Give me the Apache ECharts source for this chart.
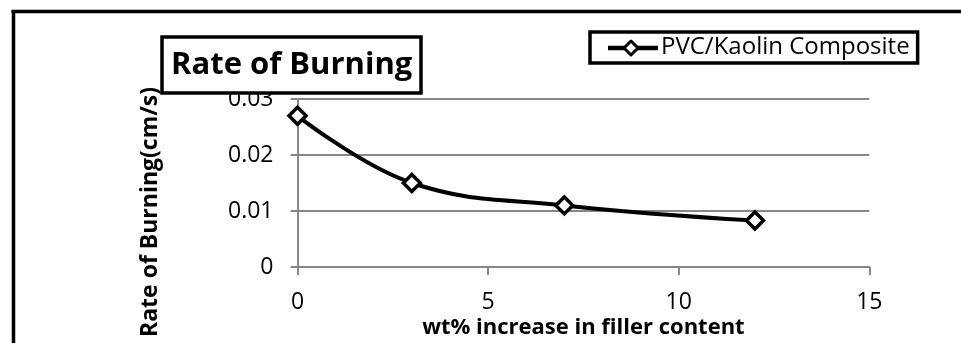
<!DOCTYPE html>
<html>
<head>
<meta charset="utf-8">
<script src="https://cdn.jsdelivr.net/npm/echarts@6/dist/echarts.min.js"></script>
<style>
  html, body { margin: 0; padding: 0; background: #fff; }
  #chart { width: 961px; height: 343px; }
</style>
</head>
<body>
<div id="chart"></div>
<script>
// Filler content (wt%) and measured burning rate (cm/s)
const fillerContent = [0, 3, 7, 12];
const burningRate = [0.027, 0.015, 0.011, 0.0083];
const seriesName = 'PVC/Kaolin Composite';
const xTicks = { min: 0, max: 15, interval: 5 };
const yTicks = { min: 0, max: 0.03, interval: 0.01 };

const FONT = '"Open Sans", "DejaVu Sans", sans-serif';
const chart = echarts.init(document.getElementById('chart'), null, { renderer: 'canvas' });

chart.setOption({
  animation: false,
  backgroundColor: '#fff',
  title: {
    text: 'Rate of Burning',
    left: 162,
    top: 37,
    padding: [11, 9, 11, 9],
    borderColor: '#000',
    borderWidth: 3.5,
    backgroundColor: '#fff',
    textStyle: { fontFamily: FONT, fontWeight: 'bold', fontSize: 31, lineHeight: 34, color: '#000' },
    z: 10
  },
  legend: {
    left: 590,
    top: 32,
    padding: [0, 8, 0, 16],
    itemWidth: 50,
    itemHeight: 18,
    itemGap: 4,
    borderColor: '#000',
    borderWidth: 3.5,
    // the key glyph is drawn as a graphic group below, with a heavier stroke
    icon: 'rect',
    itemStyle: { color: 'rgba(0,0,0,0)', borderWidth: 0 },
    textStyle: { fontFamily: FONT, fontSize: 24, lineHeight: 27, color: '#000', padding: [4, 0, 0, 0] },
    data: [seriesName]
  },
  grid: { left: 297.5, right: 91.7, top: 99, bottom: 76 },
  xAxis: {
    type: 'value',
    min: xTicks.min, max: xTicks.max, interval: xTicks.interval,
    name: 'wt% increase in filler content',
    nameLocation: 'middle',
    nameGap: 50,
    nameTextStyle: { fontFamily: FONT, fontWeight: 'bold', fontSize: 22, color: '#000' },
    axisLine: { show: true, lineStyle: { color: '#878787', width: 2 } },
    axisTick: { show: true, length: 8, lineStyle: { color: '#878787', width: 2 } },
    axisLabel: { fontFamily: FONT, fontSize: 23, color: '#000', margin: 24 },
    splitLine: { show: false }
  },
  yAxis: {
    type: 'value',
    min: yTicks.min, max: yTicks.max, interval: yTicks.interval,
    axisLine: { show: true, lineStyle: { color: '#878787', width: 2 } },
    axisTick: { show: true, length: 7, lineStyle: { color: '#878787', width: 2 } },
    axisLabel: { fontFamily: FONT, fontSize: 23, color: '#000', margin: 24 },
    splitLine: { show: true, lineStyle: { color: '#878787', width: 2 } }
  },
  graphic: [
    // frame lines along the top and left edge
    { type: 'line', shape: { x1: 11.5, y1: 11.5, x2: 961, y2: 11.5 }, style: { stroke: '#000', lineWidth: 3.5 }, z: 20 },
    { type: 'line', shape: { x1: 13.5, y1: 10, x2: 13.5, y2: 343 }, style: { stroke: '#000', lineWidth: 3.5 }, z: 20 },
    // legend key: thick line with hollow diamond
    {
      type: 'group',
      x: 608, y: 48,
      zlevel: 1,
      children: [
        { type: 'line', shape: { x1: 0, y1: 0, x2: 50, y2: 0 }, style: { stroke: '#000', lineWidth: 4.5 }, zlevel: 1, z: 30 },
        { type: 'polygon', shape: { points: [[23, -7], [30, 0], [23, 7], [16, 0]] },
          style: { fill: '#fff', stroke: '#000', lineWidth: 3, lineJoin: 'round' }, zlevel: 1, z: 31 }
      ]
    },
    // y-axis title
    {
      type: 'text',
      x: 150, y: 212,
      rotation: Math.PI / 2,
      style: {
        text: 'Rate of Burning(cm/s)',
        font: 'bold 23px ' + FONT,
        fill: '#000',
        align: 'center',
        verticalAlign: 'middle'
      },
      z: 5
    }
  ],
  series: [{
    name: seriesName,
    type: 'line',
    smooth: 0.4,
    data: fillerContent.map((x, i) => [x, burningRate[i]]),
    symbol: 'diamond',
    symbolSize: 17,
    lineStyle: { color: '#000', width: 4 },
    itemStyle: { color: '#fff', borderColor: '#000', borderWidth: 3.5 },
    z: 3
  }]
});
</script>
</body>
</html>
